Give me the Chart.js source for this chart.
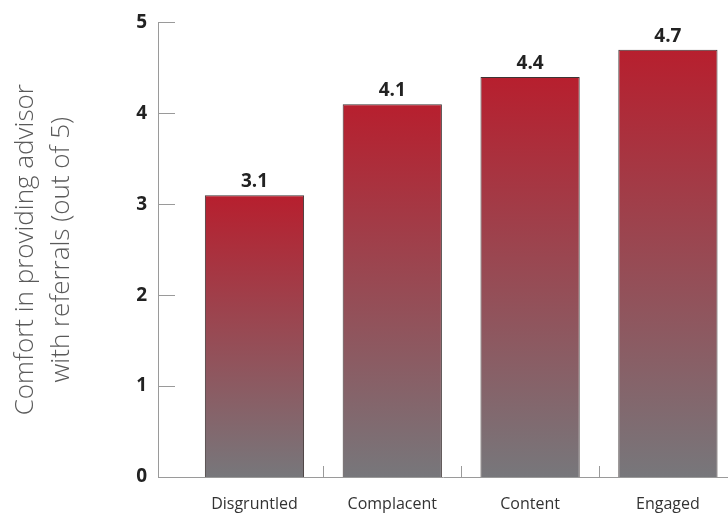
<!DOCTYPE html>
<html>
<head>
<meta charset="utf-8">
<title>Comfort in providing advisor with referrals</title>
<script src="https://cdn.jsdelivr.net/npm/chart.js@4.4.0/dist/chart.umd.min.js"></script>
<style>
    html, body {
        margin: 0;
        padding: 0;
        background: #ffffff;
    }
    #wrap {
        width: 728px;
        height: 514px;
    }
</style>
</head>
<body>
<div id="wrap">
    <canvas id="chart" width="728" height="514"></canvas>
</div>
<script>
// Segments and their average comfort score (out of 5)
const categories = ['Disgruntled', 'Complacent', 'Content', 'Engaged'];
const scores = [3.1, 4.1, 4.4, 4.7];
const yTicks = [0, 1, 2, 3, 4, 5];
const yTitle = ['Comfort in providing advisor', 'with referrals (out of 5)'];

const FONT = '"Open Sans", "Noto Sans", sans-serif';
const AXIS_GREY = '#9a9a9a';

// Each bar fades from red at its top to grey at the baseline
function barGradient(context) {
    const chart = context.chart;
    const { ctx, chartArea, scales } = chart;
    if (!chartArea || context.dataIndex === undefined) return '#b71f2e';
    const top = scales.y.getPixelForValue(scores[context.dataIndex]);
    const bottom = scales.y.getPixelForValue(0);
    const g = ctx.createLinearGradient(0, top, 0, bottom);
    g.addColorStop(0, '#b71f2e');
    g.addColorStop(1, '#77777b');
    return g;
}

// Short inward tick marks on the y axis and category dividers on the x axis
const axisMarks = {
    id: 'axisMarks',
    beforeDatasetsDraw(chart) {
        const { ctx, scales } = chart;
        const x0 = scales.x.left;
        const y0 = scales.y.getPixelForValue(0);
        ctx.save();
        ctx.strokeStyle = AXIS_GREY;
        ctx.lineWidth = 1;
        ctx.beginPath();
        yTicks.slice(1).forEach(v => {
            const y = Math.round(scales.y.getPixelForValue(v)) + 0.5;
            ctx.moveTo(x0, y);
            ctx.lineTo(x0 + 17, y);
        });
        for (let i = 1; i < categories.length; i++) {
            const x = Math.round(scales.x.getPixelForValue(i + 0.5)) + 0.5;
            ctx.moveTo(x, y0);
            ctx.lineTo(x, y0 - 11);
        }
        ctx.stroke();
        ctx.restore();
    }
};

// Score printed above each bar
const valueLabels = {
    id: 'valueLabels',
    afterDatasetsDraw(chart) {
        const { ctx } = chart;
        const meta = chart.getDatasetMeta(0);
        ctx.save();
        ctx.font = 'bold 19px ' + FONT;
        ctx.fillStyle = '#222222';
        ctx.textAlign = 'center';
        ctx.textBaseline = 'alphabetic';
        meta.data.forEach((bar, i) => {
            ctx.fillText(scores[i].toFixed(1), bar.x, bar.y - 8);
        });
        ctx.restore();
    }
};

const ctx = document.getElementById('chart').getContext('2d');

new Chart(ctx, {
    type: 'bar',
    data: {
        datasets: [{
            data: scores.map((v, i) => ({ x: i + 1, y: v })),
            backgroundColor: barGradient,
            borderColor: 'rgba(40, 30, 30, 0.9)',
            borderWidth: 1,
            categoryPercentage: 0.8,
            barPercentage: 0.9
        }]
    },
    options: {
        responsive: false,
        animation: false,
        events: [],
        layout: {
            padding: { top: 17, right: 0, bottom: 0, left: 0 }
        },
        plugins: {
            legend: { display: false },
            tooltip: { enabled: false }
        },
        scales: {
            x: {
                type: 'linear',
                offset: false,
                bounds: 'data',
                min: 0.3,
                max: 4.436,
                grid: { display: false, drawTicks: false },
                border: { display: true, color: AXIS_GREY, width: 1 },
                afterBuildTicks: scale => {
                    scale.ticks = categories.map((c, i) => ({ value: i + 1 }));
                },
                afterFit: scale => {
                    scale.height = 37;
                },
                ticks: {
                    autoSkip: false,
                    maxRotation: 0,
                    padding: 18,
                    color: '#333333',
                    font: { family: FONT, size: 16 },
                    callback: value => categories[value - 1]
                }
            },
            y: {
                min: 0,
                max: 5,
                grid: { display: false, drawTicks: false },
                border: { display: true, color: AXIS_GREY, width: 1 },
                afterBuildTicks: scale => {
                    scale.ticks = yTicks.map(v => ({ value: v }));
                },
                afterFit: scale => {
                    scale.width = 158;
                },
                ticks: {
                    padding: 11,
                    color: '#222222',
                    font: { family: FONT, size: 19, weight: 'bold' }
                },
                title: {
                    display: true,
                    text: yTitle,
                    color: '#5a5a5a',
                    font: { family: FONT, size: 26, weight: '300', lineHeight: 1.38 },
                    padding: { top: 8, bottom: 0 }
                }
            }
        }
    },
    plugins: [axisMarks, valueLabels]
});
</script>
</body>
</html>
